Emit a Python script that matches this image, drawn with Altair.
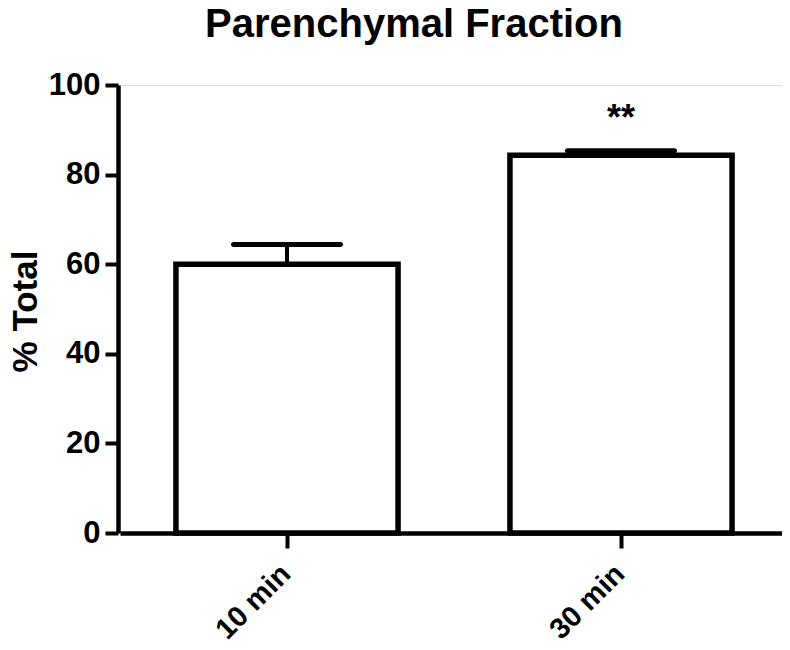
import altair as alt
import pandas as pd

groups = ["10 min", "30 min"]
means = [60.0, 84.3]
sems = [4.4, 1.0]
stars = ["", "**"]
y_ticks = [0, 20, 40, 60, 80, 100]
chart_title = "Parenchymal Fraction"

df = pd.DataFrame({
    "group": groups,
    "mean": means,
    "upper": [m + s for m, s in zip(means, sems)],
    "star": stars,
})
title_df = pd.DataFrame({"t": [chart_title]})

FONT = "Liberation Sans"

x_scale = alt.Scale(domain=groups, range=[2, 670], paddingInner=0, paddingOuter=0)

x = alt.X(
    "group:N",
    sort=groups,
    title=None,
    scale=x_scale,
    axis=alt.Axis(
        labelAngle=-45,
        labelAlign="right",
        labelBaseline="top",
        labelFontSize=29,
        labelFontWeight="bold",
        labelFont=FONT,
        labelColor="black",
        labelPadding=11,
        labelOffset=-11,
        tickSize=15,
        tickWidth=4,
        tickColor="black",
        domainColor="black",
        domainWidth=4.5,
        grid=False,
    ),
)

y_scale = alt.Scale(domain=[0, 100], nice=False, zero=True)

bars = alt.Chart(df).mark_bar(
    width={"band": 0.665}, fill="white", stroke="black", strokeWidth=5.5
).encode(
    x=x,
    y=alt.Y(
        "mean:Q",
        scale=y_scale,
        title="% Total",
        axis=alt.Axis(
            values=y_ticks,
            labelFontSize=31,
            labelFontWeight="bold",
            labelFont=FONT,
            labelColor="black",
            labelPadding=5,
            tickSize=13,
            tickWidth=4,
            tickColor="black",
            domainColor="black",
            domainWidth=4.5,
            grid=False,
            titleFontSize=35,
            titleFontWeight="bold",
            titleFont=FONT,
            titleColor="black",
            titleAngle=-90,
            titleAlign="center",
            titleBaseline="alphabetic",
            titleX=-82,
            titleY=226,
        ),
    ),
)

err = alt.Chart(df).mark_rule(color="black", strokeWidth=4).encode(
    x=alt.X("group:N", sort=groups, scale=x_scale),
    y=alt.Y("mean:Q", scale=y_scale),
    y2="upper:Q",
)

caps = alt.Chart(df).mark_tick(
    color="black", size=112, thickness=5, cornerRadius=2.5, opacity=1
).encode(
    x=alt.X("group:N", sort=groups, scale=x_scale),
    y=alt.Y("upper:Q", scale=y_scale),
)

star_text = alt.Chart(df).mark_text(
    font=FONT, fontSize=36, fontWeight="bold", color="black",
    baseline="alphabetic", align="center", dy=-21
).encode(
    x=alt.X("group:N", sort=groups, scale=x_scale),
    y=alt.Y("upper:Q", scale=y_scale),
    text="star:N",
)

title_text = alt.Chart(title_df).mark_text(
    font=FONT, fontSize=40, fontWeight="bold", color="black",
    baseline="alphabetic", align="center"
).encode(
    x=alt.value(296),
    y=alt.value(-48),
    text="t:N",
)

chart = (bars + err + caps + star_text + title_text).properties(
    width=664,
    height=448,
    autosize=alt.AutoSizeParams(type="none"),
    padding={"left": 110, "top": 77, "right": 0, "bottom": 108},
).configure_view(stroke=None).configure(background="white")

chart.save("out.html", embed_options={"renderer": "svg", "actions": False})
